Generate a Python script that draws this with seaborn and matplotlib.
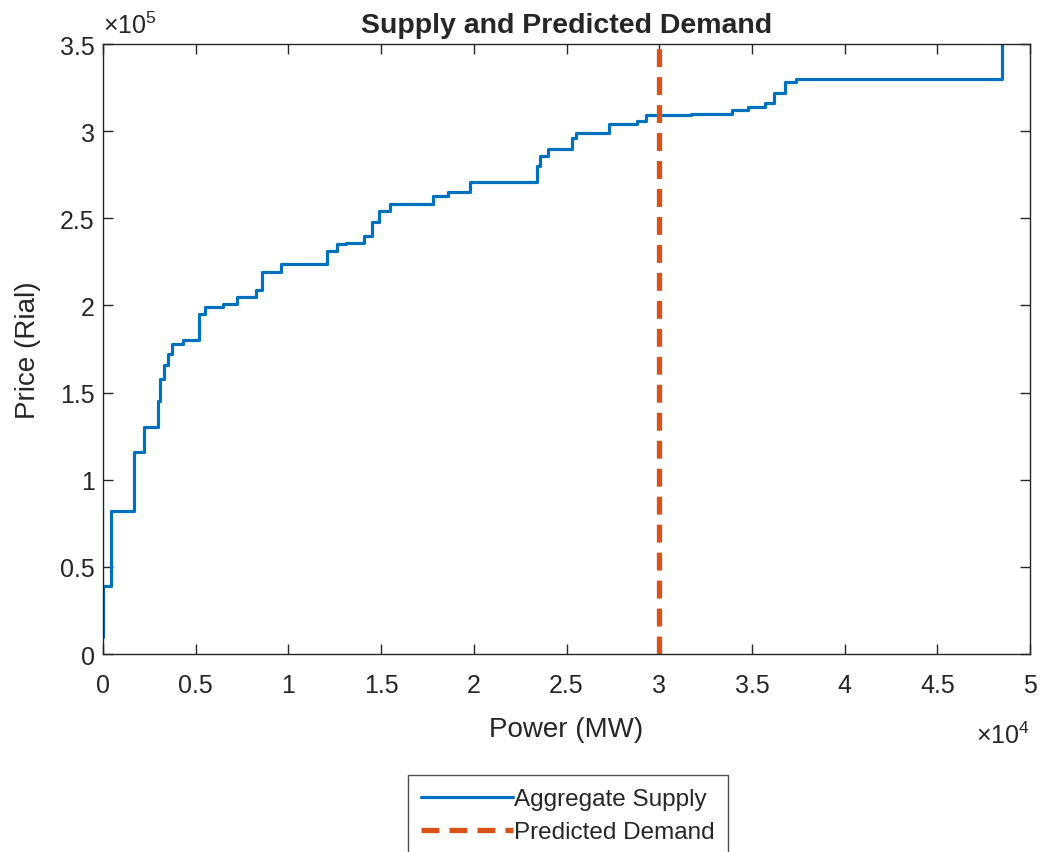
import seaborn as sns
import matplotlib.pyplot as plt
import pandas as pd
from matplotlib.ticker import FuncFormatter, MultipleLocator

# step curve: price level that starts at each power value (steps-post)
supply_power = [0, 0, 450, 1650, 2200, 2950, 3050, 3300, 3500, 3700, 4300,
                5200, 5500, 6450, 7250, 8250, 8600, 9600, 12100, 12600, 13100,
                14100, 14500, 14900, 15500, 17800, 18600, 19800, 23400, 23550,
                24000, 25300, 25500, 27300, 28800, 29300, 31700, 33900, 34800,
                35700, 36200, 36800, 37400, 48500, 48500]
supply_price = [10000, 39000, 82000, 116000, 130000, 145000, 158000, 166000,
                172000, 178000, 180000, 195000, 199000, 201000, 205000, 209000,
                219000, 224000, 231000, 235000, 236000, 240000, 248000, 254000,
                258000, 263000, 265000, 271000, 280000, 286000, 290000, 296000,
                299000, 304000, 306000, 309000, 310000, 312000, 314000, 316000,
                322000, 328000, 330000, 330000, 360000]

demand_power = [30000, 30000]
demand_price = [0, 360000]

supply = pd.DataFrame({"Power": supply_power, "Price": supply_price})
demand = pd.DataFrame({"Power": demand_power, "Price": demand_price})

sns.set_style("ticks")
plt.rcParams["font.family"] = ["Liberation Sans", "DejaVu Sans"]
plt.rcParams["mathtext.fontset"] = "custom"
plt.rcParams["mathtext.rm"] = "Liberation Sans"

fig = plt.figure(figsize=(10.46, 8.53), dpi=100)
ax = fig.add_axes([0.0985, 0.2321, 0.8862, 0.7151])

sns.lineplot(data=supply, x="Power", y="Price", estimator=None, sort=False,
             color="#0072BD", linewidth=2.3, drawstyle="steps-post",
             label="Aggregate Supply", ax=ax)
sns.lineplot(data=demand, x="Power", y="Price", estimator=None, sort=False,
             color="#D95319", linewidth=3.8, label="Predicted Demand", ax=ax)
ax.lines[-1].set_dashes([3.4, 1.9])

ax.set_xlim(0, 50000)
ax.set_ylim(0, 350000)
ax.xaxis.set_major_locator(MultipleLocator(5000))
ax.yaxis.set_major_locator(MultipleLocator(50000))
ax.xaxis.set_major_formatter(FuncFormatter(lambda v, p: f"{v / 1e4:g}"))
ax.yaxis.set_major_formatter(FuncFormatter(lambda v, p: f"{v / 1e5:g}"))

for s in ax.spines.values():
    s.set_visible(True)
    s.set_color("#262626")
    s.set_linewidth(1.0)
ax.tick_params(direction="in", length=7, width=1, top=True, right=True,
               labelsize=18, colors="#262626")
ax.tick_params(axis="x", pad=14)
ax.tick_params(axis="y", pad=6)

ax.set_title("Supply and Predicted Demand", fontsize=20.5, fontweight="bold", pad=9)
ax.set_xlabel("Power (MW)", fontsize=20, color="#262626", labelpad=13)
ax.set_ylabel("Price (Rial)", fontsize=20, color="#262626", labelpad=14)

ax.text(0.0, 1.01, r"$\times10^{5}$", transform=ax.transAxes, fontsize=18,
        color="#262626", ha="left", va="bottom")
ax.text(1.0, -0.11, r"$\times10^{4}$", transform=ax.transAxes, fontsize=18,
        color="#262626", ha="right", va="top")

leg = ax.legend(loc="upper center", bbox_to_anchor=(568 / 1046, 1 - 776 / 853),
                bbox_transform=fig.transFigure, fontsize=17.5, frameon=True,
                fancybox=False, edgecolor="#262626", handlelength=3.8,
                handletextpad=0.05, labelspacing=0.45, borderpad=0.55,
                borderaxespad=0)
leg.get_frame().set_linewidth(1.0)

fig.savefig("out.png", dpi=100)
plt.close(fig)
